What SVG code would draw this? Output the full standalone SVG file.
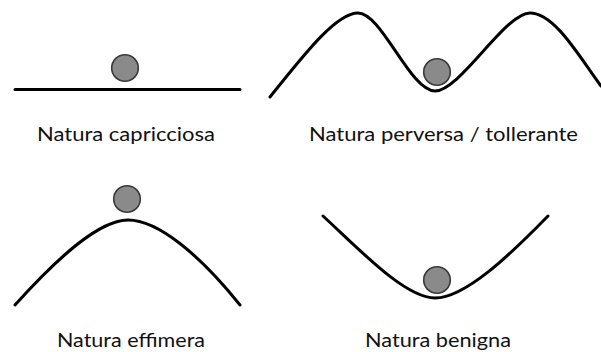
<svg xmlns="http://www.w3.org/2000/svg" width="601" height="352" viewBox="0 0 601 352">
<style>
.curve{fill:none;stroke:#000;stroke-width:3;stroke-linecap:round;stroke-linejoin:round}
.ball{fill:#8a8a8a;stroke:#3a3a3a;stroke-width:1.6}
.lbl{font-family:Lato,"Open Sans","Liberation Sans",sans-serif;font-size:19.5px;fill:#111;text-anchor:middle}
</style>
<rect width="601" height="352" fill="#fff"/>
<g id="capricciosa">
<line class="curve" x1="15" y1="89.5" x2="240" y2="89.5"/>
<circle class="ball" cx="125" cy="68" r="13.3"/>
<text class="lbl" x="126" y="141" textLength="178" lengthAdjust="spacingAndGlyphs">Natura capricciosa</text>
</g>
<g id="perversa">
<path class="curve" d="M270,97 C300,60 335,13 358,13 C382,13 410,91 435,91 C460,91 505,13 530,13 C555,13 580,58 601,86"/>
<circle class="ball" cx="437" cy="72" r="13.3"/>
<text class="lbl" x="443.5" y="141" textLength="269" lengthAdjust="spacingAndGlyphs">Natura perversa / tollerante</text>
</g>
<g id="effimera">
<path class="curve" d="M15,305 C60,255 100,220 128,220 C158,220 200,255 240,305"/>
<circle class="ball" cx="127" cy="199" r="13.3"/>
<text class="lbl" x="131" y="347" textLength="148" lengthAdjust="spacingAndGlyphs">Natura effimera</text>
</g>
<g id="benigna">
<path class="curve" d="M323,216 C360,250 405,298 435,298 C465,298 510,255 548,216"/>
<circle class="ball" cx="437" cy="280" r="13.3"/>
<text class="lbl" x="438" y="347" textLength="146" lengthAdjust="spacingAndGlyphs">Natura benigna</text>
</g>
</svg>
